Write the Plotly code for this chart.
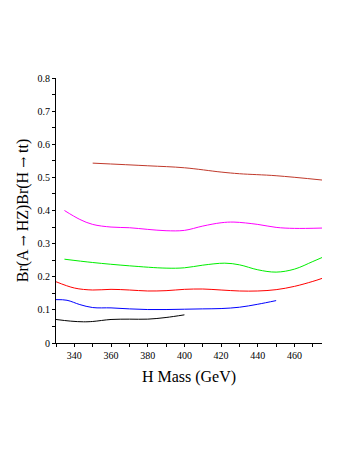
import plotly.graph_objects as go

# H mass (GeV) and branching-ratio products
mass_darkred = [350, 380, 400, 420, 430, 450, 475]
br_darkred = [0.543, 0.535, 0.529, 0.516, 0.511, 0.505, 0.492]

mass_magenta = [334.6, 343, 350, 360, 370, 380, 390, 400, 410, 420, 427, 440, 450, 460, 475]
br_magenta = [0.400, 0.373, 0.358, 0.350, 0.348, 0.343, 0.339, 0.340, 0.353, 0.363, 0.365, 0.358, 0.349, 0.346, 0.347]

mass_green = [334.6, 350, 370, 390, 400, 410, 422, 430, 440, 450, 460, 470, 475]
br_green = [0.253, 0.243, 0.233, 0.226, 0.227, 0.235, 0.241, 0.236, 0.221, 0.214, 0.223, 0.246, 0.258]

mass_red = [330, 340, 350, 360, 370, 380, 390, 400, 410, 420, 430, 440, 450, 460, 470, 475]
br_red = [0.185, 0.166, 0.160, 0.162, 0.160, 0.157, 0.158, 0.162, 0.163, 0.160, 0.157, 0.157, 0.161, 0.171, 0.186, 0.195]

mass_blue = [330, 336, 343, 350, 360, 370, 380, 390, 400, 410, 420, 430, 440, 450]
br_blue = [0.131, 0.129, 0.116, 0.107, 0.106, 0.103, 0.101, 0.101, 0.102, 0.103, 0.104, 0.108, 0.117, 0.128]

mass_black = [330, 338, 345, 350, 360, 370, 380, 390, 400]
br_black = [0.071, 0.066, 0.064, 0.065, 0.071, 0.072, 0.072, 0.077, 0.085]

series = [
    (mass_darkred, br_darkred, '#c0392b'),
    (mass_magenta, br_magenta, '#ff00ff'),
    (mass_green, br_green, '#00ee00'),
    (mass_red, br_red, '#ff0000'),
    (mass_blue, br_blue, '#0000ff'),
    (mass_black, br_black, '#000000'),
]

fig = go.Figure()
for x, y, c in series:
    fig.add_trace(go.Scatter(
        x=x, y=y, mode='lines',
        line=dict(color=c, width=1, shape='spline', smoothing=1.0),
        showlegend=False, hoverinfo='skip'
    ))

# page has an 8px body margin, so shift the plot box up/left to match
fig.update_layout(
    width=349, height=451,
    margin=dict(l=48, r=35, t=70, b=116),
    plot_bgcolor='white',
    paper_bgcolor='white',
    font=dict(family='Liberation Serif, Times New Roman, serif', color='black', size=10),
    showlegend=False
)

fig.update_xaxes(
    range=[330, 475], tick0=340, dtick=20,
    ticks='outside', ticklen=3, tickcolor='black',
    minor=dict(dtick=10, tick0=330, ticks='outside', ticklen=3, tickcolor='black'),
    showline=True, linecolor='black', linewidth=1,
    showgrid=False, zeroline=False,
    tickfont=dict(size=10),
    title=dict(text='H Mass (GeV)', font=dict(size=16), standoff=10)
)
arrow = '<span style="font-family:DejaVu Serif;font-size:13px">\u2192</span>'
fig.update_yaxes(
    range=[0, 0.8], dtick=0.1, tickformat='.1~f',
    ticks='outside', ticklen=3, tickcolor='black',
    minor=dict(dtick=0.05, ticks='outside', ticklen=3, tickcolor='black'),
    showline=True, linecolor='black', linewidth=1,
    showgrid=False, zeroline=False,
    tickfont=dict(size=10),
    title=dict(text='Br(A ' + arrow + ' HZ)Br(H ' + arrow + ' tt)', font=dict(size=16), standoff=4)
)

fig.write_html("out.html")
